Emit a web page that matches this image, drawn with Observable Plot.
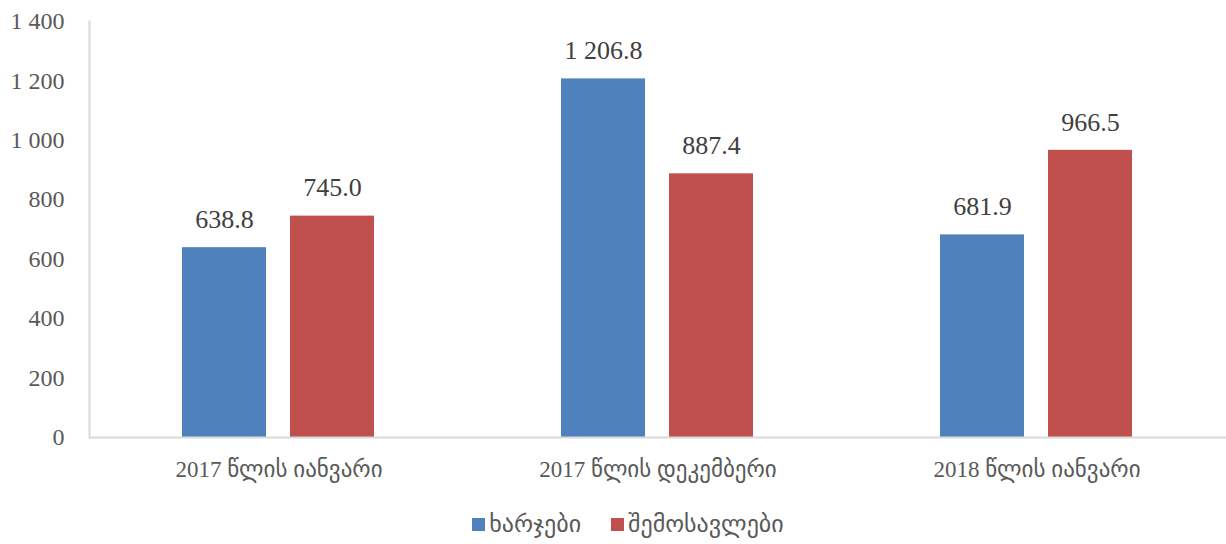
<!DOCTYPE html>
<html>
<head>
<meta charset="utf-8">
<script src="https://cdn.jsdelivr.net/npm/d3@7"></script>
<script src="https://cdn.jsdelivr.net/npm/@observablehq/plot@0.6"></script>
<style>
  body { margin: 0; background: #fff; font-family: "Liberation Serif", "DejaVu Sans", serif; }
  #legend { display: flex; justify-content: center; align-items: center; gap: 30px; height: 54px; padding-top: 14px; box-sizing: border-box; padding-left: 30px; font-size: 24px; color: #595959; }
  .item { display: flex; align-items: center; gap: 4px; }
  .sw { width: 13px; height: 13px; display: inline-block; }
</style>
</head>
<body>
<div id="chart"></div>
<div id="legend"></div>
<script>
const categories = ["2017 წლის იანვარი", "2017 წლის დეკემბერი", "2018 წლის იანვარი"];
const series = ["ხარჯები", "შემოსავლები"];
const expenses = [638.8, 1206.8, 681.9];
const revenues = [745.0, 887.4, 966.5];
const yTicks = [0, 200, 400, 600, 800, 1000, 1200, 1400];
const colors = ["#4F81BD", "#C0504D"];

const data = categories.flatMap((c, i) => [
  {category: c, series: series[0], value: expenses[i]},
  {category: c, series: series[1], value: revenues[i]}
]);

const fmt1 = v => d3.format(",.1f")(v).replace(/,/g, " ");
const fmt0 = v => d3.format(",")(v).replace(/,/g, " ");

const chart = Plot.plot({
  width: 1226,
  height: 490,
  marginLeft: 88,
  marginRight: 0,
  marginTop: 21,
  marginBottom: 53,
  style: {fontFamily: '"Liberation Serif", "DejaVu Sans", serif', background: "#fff"},
  fx: {domain: categories, padding: 0, label: null},
  x: {domain: series, paddingInner: 0.222, paddingOuter: 0.85, axis: null},
  y: {domain: [0, 1400], label: null},
  color: {domain: series, range: colors},
  marks: [
    Plot.barY(data, {fx: "category", x: "series", y: "value", fill: "series"}),
    Plot.text(data, {fx: "category", x: "series", y: "value", text: d => fmt1(d.value), dy: -28, fontSize: 26, fill: "#404040"}),
    Plot.ruleY([0], {stroke: "#d9d9d9", strokeWidth: 2}),
    Plot.frame({anchor: "left", facetAnchor: "left", stroke: "#d9d9d9", strokeWidth: 2}),
    Plot.axisY({ticks: yTicks, tickFormat: fmt0, tickSize: 0, tickPadding: 25, fontSize: 24, fill: "#595959", label: null}),
    Plot.axisFx({anchor: "bottom", tickSize: 0, tickPadding: 23, fontSize: 23, fill: "#595959", label: null})
  ]
});
document.getElementById("chart").appendChild(chart);

const legend = document.getElementById("legend");
series.forEach((s, i) => {
  const item = document.createElement("div");
  item.className = "item";
  const sw = document.createElement("span");
  sw.className = "sw";
  sw.style.background = colors[i];
  const t = document.createElement("span");
  t.textContent = s;
  item.appendChild(sw);
  item.appendChild(t);
  legend.appendChild(item);
});
</script>
</body>
</html>
